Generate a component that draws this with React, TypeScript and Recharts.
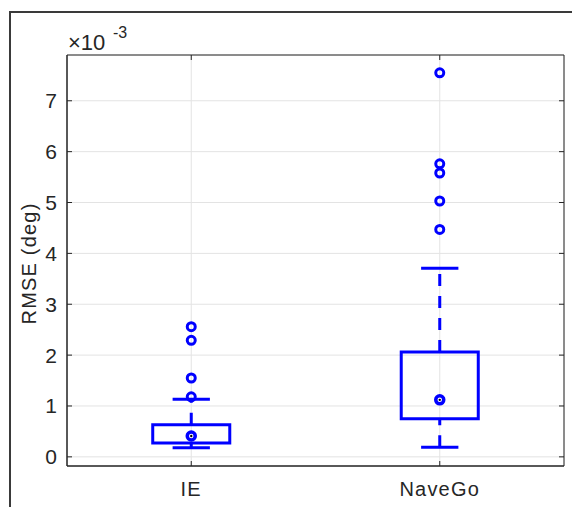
import React from 'react';
import { ComposedChart, XAxis, YAxis, CartesianGrid, ReferenceArea, ReferenceLine, Scatter } from 'recharts';

// box plot stats (values are x 10^-3 deg)
const categories = ['IE', 'NaveGo'];
const positions = [1, 2];
const lowerWhisker = [0.18, 0.19];
const q1 = [0.27, 0.75];
const medians = [0.41, 1.12];
const q3 = [0.63, 2.06];
const upperWhisker = [1.13, 3.71];
const outliersIE = [1.18, 1.55, 2.29, 2.56];
const outliersNaveGo = [4.47, 5.03, 5.58, 5.76, 7.55];
const yTicks = [0, 1, 2, 3, 4, 5, 6, 7];

const BLUE = '#0000ff';
const AXIS = '#262626';
const FONT = '"Liberation Sans", Arial, sans-serif';
const W = 572;
const H = 507;
const PLOT = { left: 67, right: 564, top: 55, bottom: 466 };
const BOX_HALF = 0.155;
const CAP_HALF = 0.075;

const outlierData = [
  ...outliersIE.map((y) => ({ x: positions[0], y })),
  ...outliersNaveGo.map((y) => ({ x: positions[1], y })),
];
const medianData = positions.map((x, i) => ({ x, y: medians[i] }));

const YTick = (props: any) => {
  const { x, y, payload } = props;
  return (
    <g>
      <text x={x} y={y + 7.5} textAnchor="end" fontSize={21} fill={AXIS} fontFamily={FONT}>
        {payload.value}
      </text>
      <line x1={PLOT.left} x2={PLOT.left + 5} y1={y} y2={y} stroke={AXIS} />
      <line x1={PLOT.right - 5} x2={PLOT.right} y1={y} y2={y} stroke={AXIS} />
    </g>
  );
};

const XTick = (props: any) => {
  const { x, y, payload } = props;
  const idx = positions.indexOf(payload.value);
  return (
    <g>
      <text x={x} y={y + 15} textAnchor="middle" fontSize={20} letterSpacing={1.2} fill={AXIS} fontFamily={FONT}>
        {categories[idx]}
      </text>
      <line x1={x} x2={x} y1={PLOT.bottom} y2={PLOT.bottom - 5} stroke={AXIS} />
      <line x1={x} x2={x} y1={PLOT.top} y2={PLOT.top + 5} stroke={AXIS} />
    </g>
  );
};

const YTitle = () => (
  <g fontFamily={FONT} fill={AXIS}>
    <text
      x={29}
      y={(PLOT.top + PLOT.bottom) / 2 + 3}
      transform={`rotate(-90 29 ${(PLOT.top + PLOT.bottom) / 2 + 3})`}
      textAnchor="middle"
      dominantBaseline="central"
      fontSize={20}
      letterSpacing={1.2}
    >
      RMSE (deg)
    </text>
    <text x={68} y={50} fontSize={22}>
      ×10
    </text>
    <text x={113} y={38} fontSize={16}>
      -3
    </text>
  </g>
);

const Outlier = (props: any) => (
  <circle cx={props.cx} cy={props.cy} r={4} fill="none" stroke={BLUE} strokeWidth={3} />
);

const Median = (props: any) => (
  <g>
    <circle cx={props.cx} cy={props.cy} r={4} fill="#fff" stroke={BLUE} strokeWidth={3.5} />
    <circle cx={props.cx} cy={props.cy} r={1.2} fill="#000" />
  </g>
);

export default function App() {
  return (
    <div style={{ position: 'absolute', left: 0, top: 0, width: W, height: H, background: '#fff', overflow: 'hidden' }}>
      <div
        style={{
          position: 'absolute',
          left: 9,
          top: 11,
          width: W,
          height: H,
          borderTop: '2px solid #3a3a3a',
          borderLeft: '2px solid #3a3a3a',
        }}
      />
      <div style={{ position: 'absolute', left: 0, top: 0 }}>
        <ComposedChart
          width={W}
          height={H}
          margin={{ top: PLOT.top, right: W - PLOT.right, bottom: 0, left: 0 }}
        >
          <CartesianGrid stroke="#e3e3e3" strokeWidth={1} />
          <XAxis
            dataKey="x"
            type="number"
            domain={[0.5, 2.5]}
            ticks={positions}
            allowDataOverflow
            height={H - PLOT.bottom}
            tickSize={0}
            tickMargin={15}
            tick={<XTick />}
            axisLine={{ stroke: AXIS }}
            tickLine={false}
          />
          <YAxis
            dataKey="y"
            type="number"
            domain={[-0.18, 7.9]}
            ticks={yTicks}
            allowDataOverflow
            width={PLOT.left}
            tickSize={0}
            tickMargin={10}
            tick={<YTick />}
            axisLine={{ stroke: AXIS }}
            tickLine={false}
            label={<YTitle />}
          />
          <ReferenceArea x1={0.5} x2={2.5} y1={-0.18} y2={7.9} fill="none" stroke={AXIS} strokeWidth={1} ifOverflow="visible" />
          {positions.map((p, i) => (
            <ReferenceLine
              key={`wu${i}`}
              segment={[{ x: p, y: q3[i] }, { x: p, y: upperWhisker[i] }]}
              stroke={BLUE}
              strokeWidth={3}
              strokeDasharray="12 10"
            />
          ))}
          {positions.map((p, i) => (
            <ReferenceLine
              key={`wl${i}`}
              segment={[{ x: p, y: lowerWhisker[i] }, { x: p, y: q1[i] }]}
              stroke={BLUE}
              strokeWidth={3}
              strokeDasharray="12 10"
            />
          ))}
          {positions.map((p, i) => (
            <ReferenceLine
              key={`cu${i}`}
              segment={[{ x: p - CAP_HALF, y: upperWhisker[i] }, { x: p + CAP_HALF, y: upperWhisker[i] }]}
              stroke={BLUE}
              strokeWidth={3}
            />
          ))}
          {positions.map((p, i) => (
            <ReferenceLine
              key={`cl${i}`}
              segment={[{ x: p - CAP_HALF, y: lowerWhisker[i] }, { x: p + CAP_HALF, y: lowerWhisker[i] }]}
              stroke={BLUE}
              strokeWidth={3}
            />
          ))}
          {positions.map((p, i) => (
            <ReferenceArea
              key={`box${i}`}
              x1={p - BOX_HALF}
              x2={p + BOX_HALF}
              y1={q1[i]}
              y2={q3[i]}
              fill="none"
              fillOpacity={0}
              stroke={BLUE}
              strokeWidth={3}
              strokeOpacity={1}
            />
          ))}
          <Scatter data={outlierData} shape={<Outlier />} isAnimationActive={false} />
          <Scatter data={medianData} shape={<Median />} isAnimationActive={false} />
        </ComposedChart>
      </div>
    </div>
  );
}
